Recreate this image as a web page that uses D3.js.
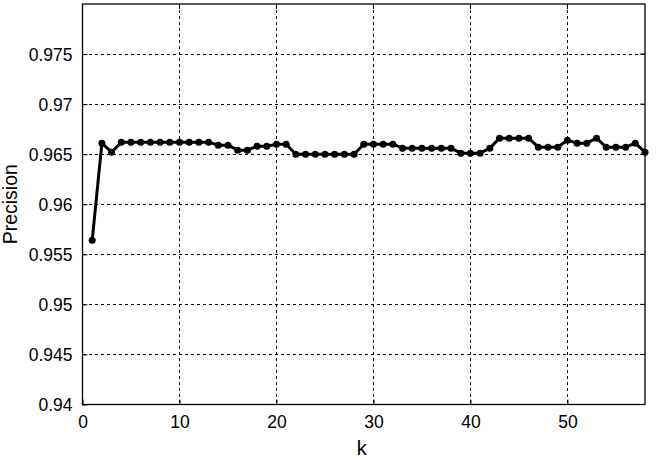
<!DOCTYPE html>
<html><head><meta charset="utf-8">
<script src="https://cdn.jsdelivr.net/npm/d3@7"></script>
<style>body{margin:0;background:#fff}svg{display:block}text{font-family:"Liberation Sans",Arial,sans-serif;fill:#000}</style>
</head><body><div id="chart"></div>
<script>
const kValues = d3.range(1, 59);
const precision = [
 0.9564, 0.9661, 0.9652, 0.9662, 0.9662, 0.9662, 0.9662, 0.9662, 0.9662, 0.9662,
 0.9662, 0.9662, 0.9662, 0.9659, 0.9659, 0.9654, 0.9654, 0.9658, 0.9658, 0.9660,
 0.9660, 0.9650, 0.9650, 0.9650, 0.9650, 0.9650, 0.9650, 0.9650, 0.9660, 0.9660,
 0.9660, 0.9660, 0.9656, 0.9656, 0.9656, 0.9656, 0.9656, 0.9656, 0.9651, 0.9651,
 0.9651, 0.9656, 0.9666, 0.9666, 0.9666, 0.9666, 0.9657, 0.9657, 0.9657, 0.9664,
 0.9661, 0.9661, 0.9666, 0.9657, 0.9657, 0.9657, 0.9661, 0.9652
];
const xTicks = [0, 10, 20, 30, 40, 50];
const yTicks = [0.94, 0.945, 0.95, 0.955, 0.96, 0.965, 0.97, 0.975];
const xLabel = "k", yLabel = "Precision";

const W = 660, H = 460;
const L = 82.5, R = 645, T = 4, B = 404.5;
const svg = d3.select("#chart").append("svg").attr("width", W).attr("height", H);
const x = d3.scaleLinear().domain([0, 58]).range([L, R]);
const y = d3.scaleLinear().domain([0.94, 0.98]).range([B, T]);

// grid
const g = svg.append("g").attr("stroke", "#000").attr("stroke-width", 1).attr("stroke-dasharray", "3,3").attr("shape-rendering", "crispEdges");
g.selectAll(".vx").data(xTicks.filter(d => d > 0)).join("line")
  .attr("x1", d => Math.round(x(d)) + 0.5).attr("x2", d => Math.round(x(d)) + 0.5).attr("y1", T).attr("y2", B);
g.selectAll(".hy").data(yTicks.filter(d => d > 0.94)).join("line")
  .attr("y1", d => Math.round(y(d)) + 0.5).attr("y2", d => Math.round(y(d)) + 0.5).attr("x1", L).attr("x2", R);

// axes (ticks inward)
const ax = d3.axisBottom(x).tickValues(xTicks).tickSize(-5).tickPadding(11).tickFormat(d3.format("d"));
const ay = d3.axisLeft(y).tickValues(yTicks).tickSize(-5).tickPadding(10).tickFormat(d => String(+d.toFixed(3)));
const gx = svg.append("g").attr("transform", `translate(0,${B})`).call(ax);
const gy = svg.append("g").attr("transform", `translate(${L},0)`).call(ay);
[gx, gy].forEach(a => {
  a.select(".domain").remove();
  a.selectAll("line").attr("stroke", "#000");
  a.selectAll("text").attr("font-size", 17.5).attr("font-family", '"Liberation Sans",Arial,sans-serif').attr("fill", "#000");
});
gy.selectAll("text").attr("dy", "0.36em");
// right / top ticks
svg.append("g").selectAll("line").data(yTicks).join("line")
  .attr("x1", R).attr("x2", R - 5).attr("y1", d => y(d)).attr("y2", d => y(d)).attr("stroke", "#000");
svg.append("g").selectAll("line").data(xTicks).join("line")
  .attr("y1", T).attr("y2", T + 5).attr("x1", d => x(d)).attr("x2", d => x(d)).attr("stroke", "#000");

// frame
svg.append("rect").attr("x", L).attr("y", T).attr("width", R - L).attr("height", B - T)
  .attr("fill", "none").attr("stroke", "#000").attr("stroke-width", 1.3);

// line
const data = kValues.map((k, i) => ({k, v: precision[i]}));
svg.append("path").datum(data)
  .attr("fill", "none").attr("stroke", "#000").attr("stroke-width", 3).attr("stroke-linejoin", "round")
  .attr("d", d3.line().x(d => x(d.k)).y(d => y(d.v)));
svg.append("g").selectAll("circle").data(data).join("circle")
  .attr("cx", d => x(d.k)).attr("cy", d => y(d.v)).attr("r", 3.5).attr("fill", "#000");

// labels
svg.append("text").attr("x", (L + R) / 2 - 2).attr("y", 455).attr("text-anchor", "middle").attr("font-size", 20).text(xLabel);
svg.append("text").attr("transform", `translate(17,${(T + B) / 2}) rotate(-90)`).attr("text-anchor", "middle").attr("font-size", 19.5).text(yLabel);
</script></body></html>
